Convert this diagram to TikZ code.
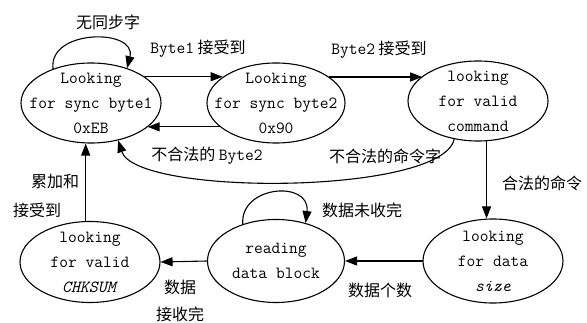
\documentclass[tikz,border=0pt]{standalone}
\usepackage{fontspec}
\newfontfamily\cjk{Noto Sans CJK SC}
\usepackage{tikz}
\usetikzlibrary{arrows.meta, shapes.geometric, calc}
\tikzset{
	phase/.style={ellipse, draw, line width=1.1pt, minimum width=140pt, minimum height=80pt, inner sep=-30pt, align=center, font=\fontsize{17}{25}\selectfont\ttfamily},
	lbl/.style={inner sep=1pt, align=center, font=\fontsize{16}{27}\selectfont\cjk},
	arr/.style={line width=1.1pt, -{Triangle[length=12pt,width=9pt]}}
}

\begin{document}
\begin{tikzpicture}[x=1pt, y=-1pt, style={line cap = round}]
					\useasboundingbox (0,0) rectangle (587,323);
					\node[phase] (sync1) at (91,103) {Looking\\for sync byte1\\0xEB};
					\node[phase, minimum width=138pt] (sync2) at (276,103) {Looking\\for sync byte2\\0x90};
					\node[phase] (cmd) at (478,101) {looking\\for valid\\command};
					\node[phase, minimum height=84pt] (size) at (493,261) {looking\\for data\\\textit{size}};
					\node[phase, minimum width=137pt, minimum height=83pt] (block) at (276,261) {reading\\data block};
					\node[phase, minimum height=81pt] (chk) at (90,262) {looking\\for valid\\\textit{CHKSUM}};
					\draw[arr] (sync1.138) .. controls +(-5,-40) and +(10,-40) .. (sync1.44);
					\draw[arr] (sync1.26) -- (sync2.154 |- sync1.26);
					\draw[arr] (sync2.203) -- (sync1.-23 |- sync2.203);
					\draw[arr] (sync2.26) -- (cmd.156 |- sync2.26);
					\draw[arr] (cmd.238) .. controls +(-12,56) and +(18,56) .. (sync1.-54);
					\draw[arr] (cmd.-78) -- (cmd.-78 |- size.north);
					\draw[arr] (size.west) -- (block.east);
					\draw[arr] (block.west) -- (chk.east);
					\draw[arr] (chk.96) -- (chk.96 |- sync1.south);
					\draw[arr] (block.132) .. controls +(-3,-39) and +(5,-43) .. (block.52);
					\node[lbl] (noSync) at (108,22) {无同步字};
					\node[lbl] (gotB1) at (198,49) {{\fontsize{17}{20}\selectfont\ttfamily Byte1} 接受到};
					\node[lbl] (badB2) at (207,156) {不合法的 {\fontsize{17}{20}\selectfont\ttfamily Byte2}};
					\node[lbl] (gotB2) at (379,50) {{\fontsize{17}{20}\selectfont\ttfamily Byte2} 接受到};
					\node[lbl] (badCmd) at (385,156) {不合法的命令字};
					\node[lbl] (okCmd) at (542,183) {合法的命令};
					\node[lbl] (nData) at (380,290) {数据个数};
					\node[lbl] (moreData) at (362,210) {数据未收完};
					\node[lbl] (doneData) at (180,301) {数据\\接收完};
					\node[lbl] (sumA) at (55,182) {累加和};
					\node[lbl] (sumB) at (37,210) {接受到};
				\end{tikzpicture}
\end{document}
